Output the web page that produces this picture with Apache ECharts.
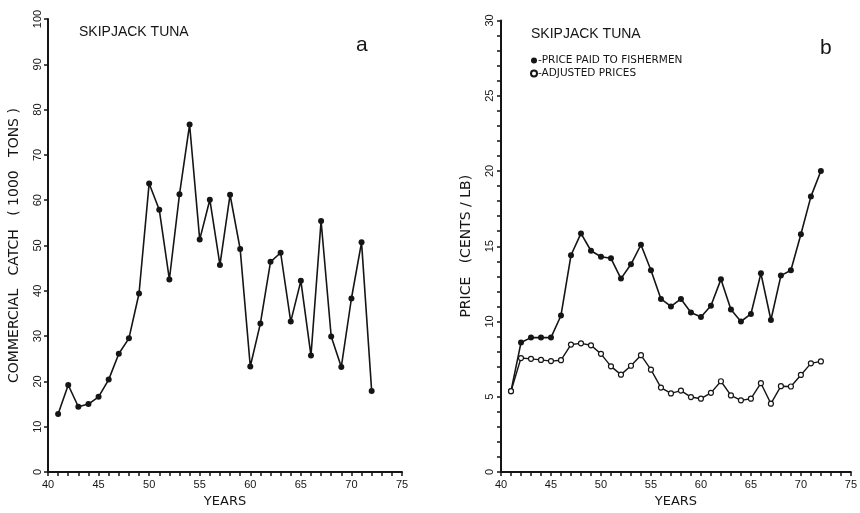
<!DOCTYPE html>
<html>
<head>
<meta charset="utf-8">
<script src="https://cdn.jsdelivr.net/npm/echarts@6/dist/echarts.min.js"></script>
<style>
html,body{margin:0;padding:0;background:#fff;}
#chart{width:860px;height:513px;}
</style>
</head>
<body>
<div id="chart"></div>
<script>
// Data
var years = [41,42,43,44,45,46,47,48,49,50,51,52,53,54,55,56,57,58,59,60,61,62,63,64,65,66,67,68,69,70,71,72];
var catchValues = [12.8,19.2,14.4,15.0,16.6,20.4,26.1,29.5,39.4,63.7,57.9,42.5,61.3,76.7,51.3,60.1,45.7,61.2,49.2,23.3,32.8,46.4,48.4,33.2,42.2,25.7,55.4,29.9,23.2,38.3,50.7,17.9];
var pricePaid = [5.37,8.6,8.93,8.93,8.93,10.4,14.4,15.85,14.7,14.3,14.2,12.85,13.8,15.1,13.4,11.5,11.0,11.5,10.6,10.3,11.05,12.8,10.8,10.0,10.5,13.2,10.1,13.05,13.4,15.8,18.3,20.0];
var adjustedPrices = [5.37,7.57,7.52,7.45,7.37,7.43,8.47,8.55,8.42,7.85,7.02,6.47,7.06,7.76,6.8,5.61,5.22,5.41,4.98,4.87,5.26,6.03,5.09,4.76,4.87,5.9,4.54,5.7,5.68,6.45,7.22,7.35];
var catchTicks = [0,10,20,30,40,50,60,70,80,90,100];
var priceTicks = [0,5,10,15,20,25,30];
var yearTicks = [40,45,50,55,60,65,70,75];

function pairs(xs, ys){ return xs.map(function(x,i){ return [x, ys[i]]; }); }

var FONT = 'Liberation Sans';
var WIDE = 'DejaVu Sans';
var INK = '#151515';

function xAxisDef(gridIndex){
  return {
    type:'value', gridIndex:gridIndex, min:yearTicks[0], max:yearTicks[yearTicks.length-1], interval:5,
    name:'YEARS', nameLocation:'middle', nameGap:23,
    nameTextStyle:{fontFamily:WIDE, fontSize:13, color:INK},
    axisLine:{show:true, onZero:false, lineStyle:{color:INK, width:2}},
    axisTick:{show:true, inside:false, length:4, lineStyle:{color:INK, width:1.5}},
    minorTick:{show:true, splitNumber:5, length:4, lineStyle:{color:INK, width:1.5}},
    axisLabel:{margin:7, fontFamily:FONT, fontSize:11, color:INK},
    splitLine:{show:false}
  };
}

var option = {
  backgroundColor:'#fff',
  animation:false,
  title:[
    {text:'SKIPJACK TUNA', left:74, top:20, textStyle:{fontFamily:FONT, fontSize:14, fontWeight:'normal', color:INK}},
    {text:'a', left:351, top:30, textStyle:{fontFamily:FONT, fontSize:21, fontWeight:'normal', color:INK}},
    {text:'SKIPJACK TUNA', left:526, top:22, textStyle:{fontFamily:FONT, fontSize:14, fontWeight:'normal', color:INK}},
    {text:'b', left:815, top:33, textStyle:{fontFamily:FONT, fontSize:21, fontWeight:'normal', color:INK}}
  ],
  legend:{
    left:525, top:50, orient:'vertical', itemGap:2, itemWidth:6, itemHeight:6, icon:'circle',
    data:['PRICE PAID TO FISHERMEN','ADJUSTED PRICES'],
    formatter:function(n){ return '-' + n; },
    textStyle:{fontFamily:WIDE, fontSize:10.5, color:INK, padding:[0,0,0,-4]},
    selectedMode:false
  },
  grid:[
    {left:48, top:19, width:354, height:456},
    {left:501, top:20.5, width:355, height:455.5}
  ],
  xAxis:[xAxisDef(0), xAxisDef(1)],
  yAxis:[
    {
      type:'value', gridIndex:0, min:catchTicks[0], max:catchTicks[catchTicks.length-1], interval:10,
      name:'COMMERCIAL   CATCH   ( 1000   TONS )', nameLocation:'middle', nameGap:27, nameRotate:90,
      nameTextStyle:{fontFamily:WIDE, fontSize:14, color:INK},
      axisLine:{show:true, lineStyle:{color:INK, width:2}},
      axisTick:{show:true, length:4, lineStyle:{color:INK, width:1.5}},
      axisLabel:{rotate:90, margin:5, fontFamily:FONT, fontSize:11, color:INK},
      splitLine:{show:false}
    },
    {
      type:'value', gridIndex:1, min:priceTicks[0], max:priceTicks[priceTicks.length-1], interval:5,
      name:'PRICE   (CENTS / LB)', nameLocation:'middle', nameGap:28, nameRotate:90,
      nameTextStyle:{fontFamily:WIDE, fontSize:14, color:INK},
      axisLine:{show:true, lineStyle:{color:INK, width:2}},
      axisTick:{show:true, length:4, lineStyle:{color:INK, width:1.5}},
      minorTick:{show:true, splitNumber:5, length:4, lineStyle:{color:INK, width:1.5}},
      axisLabel:{rotate:90, margin:6, fontFamily:FONT, fontSize:11, color:INK},
      splitLine:{show:false}
    }
  ],
  series:[
    {
      name:'COMMERCIAL CATCH', type:'line', xAxisIndex:0, yAxisIndex:0,
      data:pairs(years, catchValues),
      symbol:'circle', symbolSize:6, showAllSymbol:true,
      lineStyle:{color:INK, width:1.6},
      itemStyle:{color:INK, borderColor:INK, borderWidth:0}
    },
    {
      name:'PRICE PAID TO FISHERMEN', type:'line', xAxisIndex:1, yAxisIndex:1,
      data:pairs(years, pricePaid),
      symbol:'circle', symbolSize:6, showAllSymbol:true,
      lineStyle:{color:INK, width:1.6},
      itemStyle:{color:INK, borderColor:INK, borderWidth:0}
    },
    {
      name:'ADJUSTED PRICES', type:'line', xAxisIndex:1, yAxisIndex:1,
      data:pairs(years, adjustedPrices),
      symbol:'circle', symbolSize:5, showAllSymbol:true,
      lineStyle:{color:INK, width:1.4},
      itemStyle:{color:'#fff', borderColor:INK, borderWidth:1.2},
      z:3
    }
  ]
};

var chart = echarts.init(document.getElementById('chart'), null, {renderer:'canvas'});
chart.setOption(option);
</script>
</body>
</html>
